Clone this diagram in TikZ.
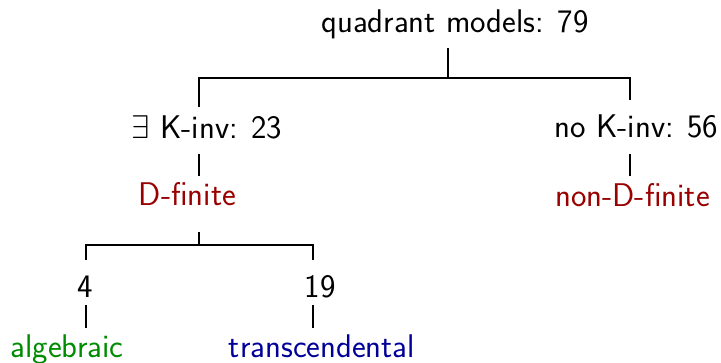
\RequirePackage{fix-cm}
\documentclass[tikz,border=0pt]{standalone}
\usepackage{fontspec}
\definecolor{dred}{RGB}{153,0,0}
\definecolor{dgreen}{RGB}{0,140,0}
\definecolor{dblue}{RGB}{0,0,153}
\begin{document}
\begin{tikzpicture}[x=1pt,y=-1pt,
  lbl/.style={anchor=base,inner sep=0pt,font=\fontsize{32.8}{38}\selectfont\sffamily},
  edge/.style={line width=1.6pt}]
\useasboundingbox (0,0) rectangle (721,363);
% nodes
\node[lbl] (root) at (455,33) {quadrant models: 79};
\node[lbl] (kinv) at (207,139) {$\exists$ K-inv: 23};
\node[lbl] (nokinv) at (636.5,138) {no K-inv: 56};
\node[lbl,text=dred] (dfin) at (187.5,206) {D-finite};
\node[lbl,text=dred] (ndfin) at (632.5,207) {non-D-finite};
\node[lbl] (four) at (85.5,298) {4};
\node[lbl] (nineteen) at (320,298) {19};
\node[lbl,text=dgreen] (alg) at (67,358) {algebraic};
\node[lbl,text=dblue] (trans) at (322,358) {transcendental};
% connector coordinates
\coordinate (rA) at (448,48);
\coordinate (rB) at (448,78);
\coordinate (kA) at (199,107);
\coordinate (nA) at (630,100);
\coordinate (kB) at (199,154);
\coordinate (kC) at (199,176);
\coordinate (nB) at (630,154);
\coordinate (nC) at (630,176);
\coordinate (dA) at (199,232);
\coordinate (dB) at (199,245);
\coordinate (fA) at (86,260);
\coordinate (tA) at (313,260);
\coordinate (fB) at (86,305);
\coordinate (fC) at (86,328);
\coordinate (tB) at (313,305);
\coordinate (tC) at (313,328);
% connectors
\draw[edge] (rA) -- (rB);
\draw[edge] (kA) |- (rB) -| (nA);
\draw[edge] (kB) -- (kC);
\draw[edge] (nB) -- (nC);
\draw[edge] (dA) -- (dB);
\draw[edge] (fA) |- (dB) -| (tA);
\draw[edge] (fB) -- (fC);
\draw[edge] (tB) -- (tC);
\end{tikzpicture}
\end{document}
